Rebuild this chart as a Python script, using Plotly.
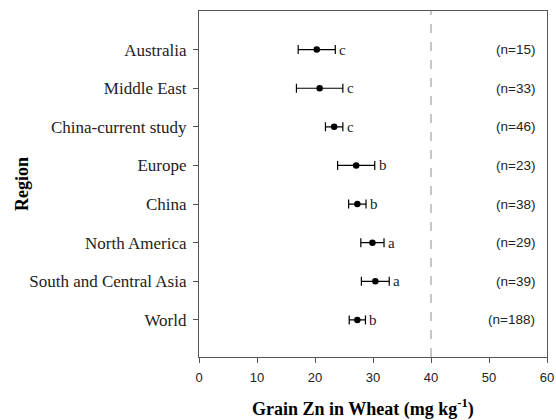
import plotly.graph_objects as go

regions = ["Australia", "Middle East", "China-current study", "Europe", "China",
           "North America", "South and Central Asia", "World"]
means = [20.3, 20.8, 23.3, 27.1, 27.3, 29.9, 30.4, 27.3]
errors = [3.2, 4.0, 1.5, 3.2, 1.5, 2.0, 2.4, 1.4]
letters = ["c", "c", "c", "b", "b", "a", "a", "b"]
counts = ["(n=15)", "(n=33)", "(n=46)", "(n=23)", "(n=38)", "(n=29)", "(n=39)", "(n=188)"]
xticks = [0, 10, 20, 30, 40, 50, 60]
ref_line = 40

ypos = list(range(len(regions)))

fig = go.Figure()
fig.add_trace(go.Scatter(
    x=means, y=ypos, mode="markers",
    marker=dict(color="black", size=6.5),
    error_x=dict(type="data", array=errors, color="black", thickness=1.2, width=4.5),
    showlegend=False, hoverinfo="skip"))

fig.add_shape(type="line", x0=ref_line, x1=ref_line, y0=0, y1=1, yref="paper",
              line=dict(color="#aaaaaa", width=1.3, dash="dash"), layer="below")

for i, (m, e, L, c) in enumerate(zip(means, errors, letters, counts)):
    fig.add_annotation(x=m + e, y=i, text=L, showarrow=False, xanchor="left", xshift=2,
                       font=dict(family="Liberation Serif", size=15, color="#222"))
    fig.add_annotation(x=58.3, y=i, text=c, showarrow=False, xanchor="right",
                       font=dict(family="Liberation Sans", size=13.5, color="#222"))

# axis titles
fig.add_annotation(x=0.47, y=0, xref="paper", yref="paper", yanchor="top", yshift=-37,
                   text="<b>Grain Zn in Wheat (mg kg<sup>-1</sup>)</b>", showarrow=False,
                   font=dict(family="Liberation Serif", size=18, color="black"))
fig.add_annotation(x=0, y=0.5, xref="paper", yref="paper", xanchor="center", xshift=-177,
                   text="<b>Region</b>", textangle=-90, showarrow=False,
                   font=dict(family="Liberation Serif", size=18, color="black"))

fig.update_layout(
    width=556, height=420,
    margin=dict(l=199, r=9, t=11, b=63, autoexpand=False),
    plot_bgcolor="white", paper_bgcolor="white",
    xaxis=dict(range=[0, 60], tickvals=xticks, ticks="outside", ticklen=5,
               tickcolor="#555", linecolor="#555", linewidth=1.2, mirror=True,
               showgrid=False, zeroline=False, automargin=False, ticklabelstandoff=3,
               tickfont=dict(family="Liberation Sans", size=13, color="#222")),
    yaxis=dict(range=[7.96, -1.0], tickvals=ypos, ticktext=regions, ticks="outside",
               ticklen=5, tickcolor="#555", linecolor="#555", linewidth=1.2, mirror=True,
               showgrid=False, zeroline=False, automargin=False, ticklabelstandoff=3,
               tickfont=dict(family="Liberation Serif", size=17, color="#222")),
)

fig.write_html("out.html", config={"displayModeBar": False},
               post_script="document.body.style.margin='0';")
